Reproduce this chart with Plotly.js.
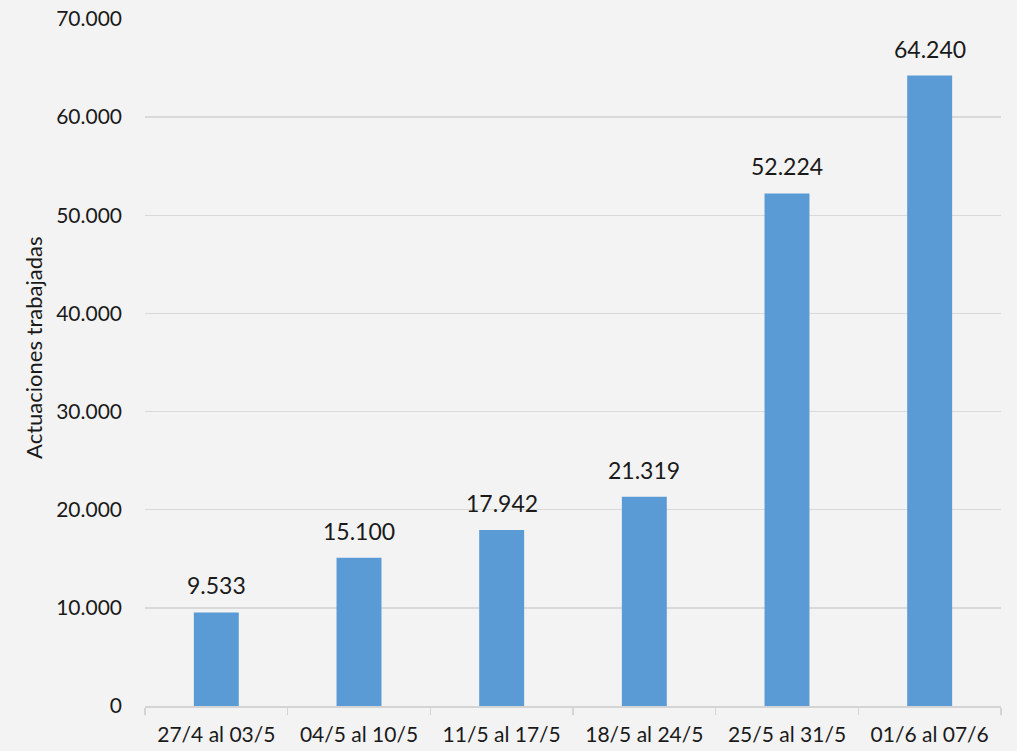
<!DOCTYPE html>
<html>
<head>
<meta charset="utf-8">
<script src="https://cdn.plot.ly/plotly-3.0.1.min.js"></script>
<style>html,body{margin:0;padding:0;background:#f3f3f3;}#chart{width:1017px;height:751px;}</style>
</head>
<body>
<div id="chart"></div>
<script>
const categories = ["27/4 al 03/5", "04/5 al 10/5", "11/5 al 17/5", "18/5 al 24/5", "25/5 al 31/5", "01/6 al 07/6"];
const actuaciones = [9533, 15100, 17942, 21319, 52224, 64240];
const yTickValues = [0, 10000, 20000, 30000, 40000, 50000, 60000, 70000];
const yTitle = 'Actuaciones trabajadas';

const trace = {
  type: 'bar',
  x: categories,
  y: actuaciones,
  marker: {color: '#5b9bd5'},
  hoverinfo: 'x+y'
};

const labelAnnotations = categories.map((c, i) => ({
  x: c, y: actuaciones[i], xref: 'x', yref: 'y',
  text: actuaciones[i].toLocaleString('de-DE'),
  showarrow: false, yanchor: 'bottom', yshift: 11,
  font: {family: 'Lato, sans-serif', size: 23, color: '#1a1a1a'}
}));

const titleAnnotation = {
  text: yTitle, textangle: -90,
  xref: 'paper', yref: 'paper', x: -0.131, y: 0.521,
  xanchor: 'center', yanchor: 'middle', showarrow: false,
  font: {family: 'Lato, sans-serif', size: 22, color: '#1a1a1a'}
};

const layout = {
  width: 1017, height: 751,
  margin: {l: 145, r: 16, t: 19, b: 45},
  paper_bgcolor: '#f3f3f3',
  plot_bgcolor: 'rgba(0,0,0,0)',
  separators: ',.',
  bargap: 0.685,
  showlegend: false,
  font: {family: 'Lato, sans-serif', size: 21, color: '#1a1a1a'},
  annotations: labelAnnotations.concat([titleAnnotation]),
  xaxis: {
    type: 'category',
    tickson: 'boundaries',
    ticks: 'outside', ticklen: 7, tickcolor: '#d4d4d4', tickwidth: 1.5,
    showline: true, linecolor: '#d4d4d4', linewidth: 1.5,
    showgrid: false,
    ticklabelstandoff: 9,
    tickfont: {size: 21}
  },
  yaxis: {
    range: [0, 70000],
    tickvals: yTickValues,
    tickformat: ',d',
    showgrid: true, gridcolor: '#d9d9d9', gridwidth: 1.5,
    zeroline: false,
    ticks: '', ticklabelstandoff: 22,
    tickfont: {size: 21}
  }
};

Plotly.newPlot('chart', [trace], layout, {displayModeBar: false, staticPlot: true});
</script>
</body>
</html>
